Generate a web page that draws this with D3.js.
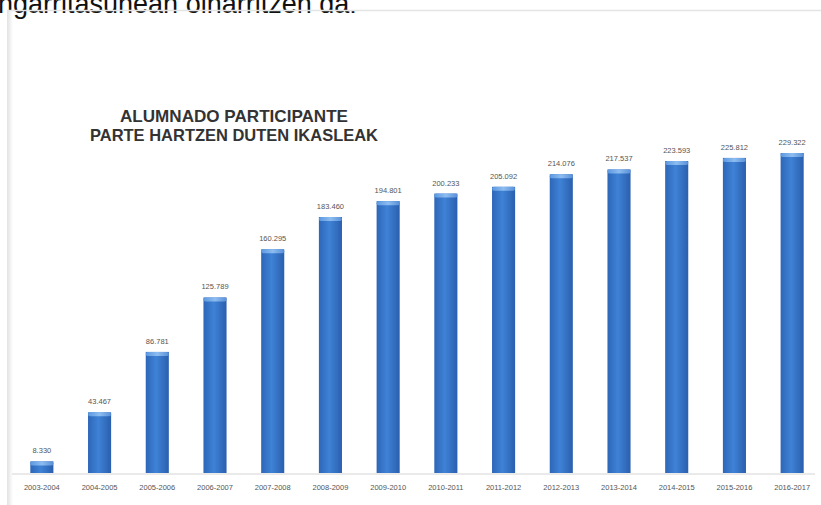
<!DOCTYPE html>
<meta charset="utf-8">
<script src="https://d3js.org/d3.v7.min.js"></script>
<style>
  body { margin: 0; background: #fff; }
</style>
<div id="my_dataviz"></div>
<script>

// data
var years = ["2003-2004", "2004-2005", "2005-2006", "2006-2007", "2007-2008", "2008-2009", "2009-2010",
             "2010-2011", "2011-2012", "2012-2013", "2013-2014", "2014-2015", "2015-2016", "2016-2017"];
var students = [8330, 43467, 86781, 125789, 160295, 183460, 194801,
                200233, 205092, 214076, 217537, 223593, 225812, 229322];
var valueLabels = ["8.330", "43.467", "86.781", "125.789", "160.295", "183.460", "194.801",
                   "200.233", "205.092", "214.076", "217.537", "223.593", "225.812", "229.322"];
var titleLines = ["ALUMNADO PARTICIPANTE", "PARTE HARTZEN DUTEN IKASLEAK"];
var topText = "ngarritasunean oinarritzen da.";

var width = 821, height = 505;

var svg = d3.select("#my_dataviz")
  .append("svg")
    .attr("width", width)
    .attr("height", height);

// gradients for the bars
var defs = svg.append("defs");
var grad = defs.append("linearGradient").attr("id", "barGrad")
  .attr("x1", "0").attr("x2", "1").attr("y1", "0").attr("y2", "0");
grad.append("stop").attr("offset", "0%").attr("stop-color", "#2d66b8");
grad.append("stop").attr("offset", "45%").attr("stop-color", "#3f82d6");
grad.append("stop").attr("offset", "100%").attr("stop-color", "#2a5fae");

var capGrad = defs.append("linearGradient").attr("id", "capGrad")
  .attr("x1", "0").attr("x2", "1").attr("y1", "0").attr("y2", "0");
capGrad.append("stop").attr("offset", "0%").attr("stop-color", "#5b98e0");
capGrad.append("stop").attr("offset", "50%").attr("stop-color", "#8dbcf0");
capGrad.append("stop").attr("offset", "100%").attr("stop-color", "#5890d8");

var frameGrad = defs.append("linearGradient").attr("id", "frameGrad")
  .attr("x1", "0").attr("x2", "1");
frameGrad.append("stop").attr("offset", "0%").attr("stop-color", "#e2e2e2");
frameGrad.append("stop").attr("offset", "100%").attr("stop-color", "#ffffff");

// text cut at the top of the page (it is cut in the original too)
svg.append("text")
  .attr("x", -2)
  .attr("y", 13)
  .attr("font-family", "Liberation Sans, Arial, sans-serif")
  .attr("font-size", 27)
  .attr("fill", "#111")
  .text(topText);

// the frame of the embedded picture
svg.append("rect")
  .attr("x", 7).attr("y", 10)
  .attr("width", 6).attr("height", height - 10)
  .attr("fill", "url(#frameGrad)");
svg.append("line")
  .attr("x1", 7).attr("x2", width).attr("y1", 10.5).attr("y2", 10.5)
  .attr("stroke", "#e4e4e4").attr("stroke-width", 1.5);

// scales
var x = d3.scaleBand()
  .domain(years)
  .range([13, 821])
  .paddingInner(0.6)
  .paddingOuter(0.3);

var y = d3.scaleLinear()
  .domain([0, 229322])
  .range([473, 153]);

// base line
svg.append("line")
  .attr("x1", 12).attr("x2", 815)
  .attr("y1", y(0) + 1).attr("y2", y(0) + 1)
  .attr("stroke", "#d4d4d4").attr("stroke-width", 1);

// bars
var bars = svg.selectAll(".bar")
  .data(students)
  .enter().append("g");

bars.append("rect")
  .attr("x", function(d, i) { return x(years[i]); })
  .attr("y", function(d) { return y(d); })
  .attr("width", x.bandwidth())
  .attr("height", function(d) { return y(0) - y(d); })
  .attr("fill", "url(#barGrad)");

bars.append("rect")
  .attr("x", function(d, i) { return x(years[i]); })
  .attr("y", function(d) { return y(d); })
  .attr("width", x.bandwidth())
  .attr("height", 4)
  .attr("rx", 2)
  .attr("fill", "url(#capGrad)");

// value labels
bars.append("text")
  .attr("x", function(d, i) { return x(years[i]) + x.bandwidth() / 2; })
  .attr("y", function(d) { return y(d) - 8; })
  .attr("text-anchor", "middle")
  .attr("font-family", "Liberation Sans Narrow, Arial Narrow, sans-serif")
  .attr("font-size", 7.5)
  .attr("fill", "#555")
  .text(function(d, i) { return valueLabels[i]; });

// x axis labels
svg.append("g")
  .attr("transform", "translate(0," + (y(0) + 1) + ")")
  .call(d3.axisBottom(x).tickSize(0).tickPadding(11))
  .call(function(g) { g.select(".domain").remove(); })
  .selectAll("text")
    .attr("font-family", "Liberation Sans Narrow, Arial Narrow, sans-serif")
    .attr("font-size", 7.5)
    .attr("fill", "#555");

// title
svg.append("g")
  .selectAll("text")
  .data(titleLines)
  .enter().append("text")
    .attr("x", 234)
    .attr("y", function(d, i) { return 122 + i * 19; })
    .attr("text-anchor", "middle")
    .attr("font-family", "Liberation Sans Narrow, Arial Narrow, sans-serif")
    .attr("font-weight", "bold")
    .attr("font-size", 16.5)
    .attr("fill", "#333")
    .attr("textLength", function(d, i) { return i === 0 ? 228 : 288; })
    .attr("lengthAdjust", "spacingAndGlyphs")
    .text(function(d) { return d; });

</script>
